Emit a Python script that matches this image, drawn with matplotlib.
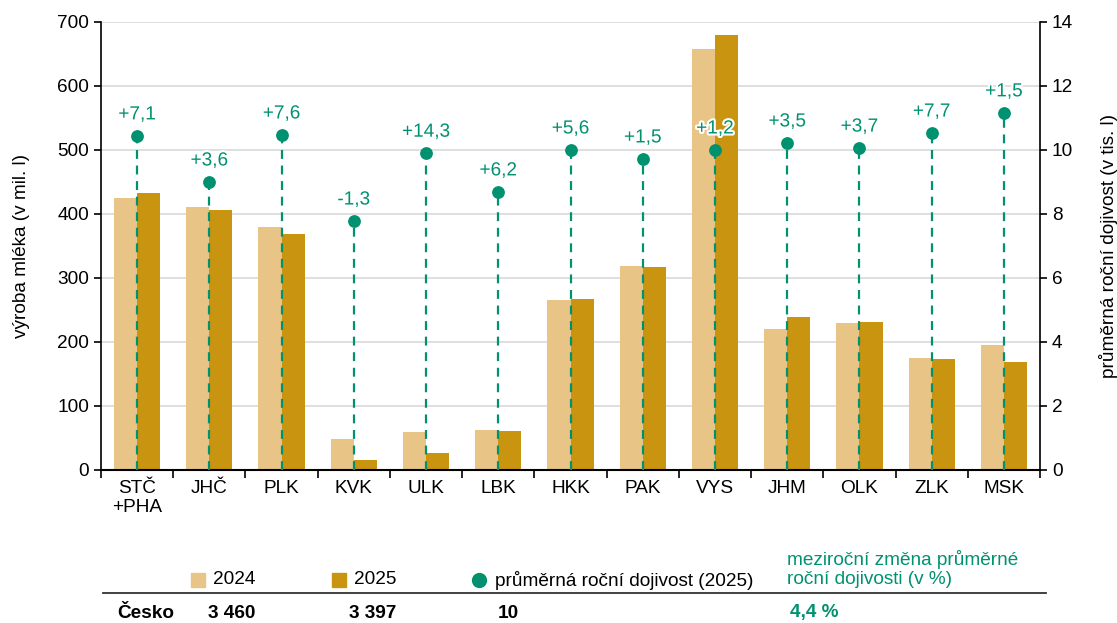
import matplotlib
matplotlib.use("Agg")
import matplotlib.pyplot as plt
import matplotlib.patheffects as pe
from matplotlib.lines import Line2D
import numpy as np

plt.rcParams["font.family"] = ["Liberation Sans", "DejaVu Sans"]

regions = ["STČ\n+PHA", "JHČ", "PLK", "KVK", "ULK", "LBK", "HKK", "PAK",
           "VYS", "JHM", "OLK", "ZLK", "MSK"]
prod_2024 = [425, 411, 379, 48, 60, 63, 266, 319, 658, 221, 229, 175, 196]
prod_2025 = [433, 407, 369, 15, 27, 61, 267, 317, 680, 239, 231, 173, 169]
yield_2025 = [10.44, 9.0, 10.47, 7.78, 9.9, 8.69, 10.0, 9.72, 10.0, 10.22, 10.06, 10.53, 11.16]
yield_change = ["+7,1", "+3,6", "+7,6", "-1,3", "+14,3", "+6,2", "+5,6", "+1,5",
                "+1,2", "+3,5", "+3,7", "+7,7", "+1,5"]

total_labels = ["Česko", "3 460", "3 397", "10", "4,4 %"]

C24 = "#E8C587"
C25 = "#C9940F"
GREEN = "#009270"
GRID = "#D9D9D9"
FS = 13.7
W, H = 1117, 623

fig = plt.figure(figsize=(W / 100, H / 100), dpi=100)
ax = fig.add_axes([101 / W, 1 - 470 / H, 939 / W, 448 / H])
ax2 = ax.twinx()

x = np.arange(len(regions))
w = 0.32
ax.bar(x - w / 2, prod_2024, w, color=C24, zorder=2)
ax.bar(x + w / 2, prod_2025, w, color=C25, zorder=2)

ax.set_ylim(0, 700)
ax.set_yticks(range(0, 701, 100))
ax.set_xlim(-0.5, len(regions) - 0.5)
ax.grid(axis="y", color=GRID, lw=1.2, zorder=0)
ax.set_axisbelow(True)
ax.set_xticks(x)
ax.set_xticklabels(regions, fontsize=FS)
ax.tick_params(axis="x", length=0, pad=7)
ax.set_xticks(np.arange(-0.5, len(regions), 1), minor=True)
ax.tick_params(axis="x", which="minor", length=6, width=1.2)
ax.tick_params(axis="y", labelsize=FS, length=5, width=1.2)
ax.set_ylabel("výroba mléka (v mil. l)", fontsize=FS, labelpad=20)
for s in ["top", "right"]:
    ax.spines[s].set_visible(False)
ax.spines["left"].set_linewidth(1.2)
ax.spines["bottom"].set_linewidth(1.5)

ax2.set_ylim(0, 14)
ax2.set_yticks(range(0, 15, 2))
ax2.tick_params(axis="y", labelsize=FS, length=5, width=1.2)
ax2.set_ylabel("průměrná roční dojivost (v tis. l)", fontsize=FS, labelpad=19)
for s in ["top", "left", "bottom"]:
    ax2.spines[s].set_visible(False)
ax2.spines["right"].set_linewidth(1.2)

ax2.vlines(x, 0, yield_2025, colors=GREEN, linestyles=(0, (4, 3)), lw=1.6, zorder=3)
ax2.scatter(x, yield_2025, s=67, color=GREEN, zorder=4)
for xi, yv, lab in zip(x, yield_2025, yield_change):
    t = ax2.annotate(lab, (xi, yv), xytext=(0, 9), textcoords="offset points",
                     ha="center", va="bottom", fontsize=FS, color=GREEN, zorder=5)
    t.set_path_effects([pe.withStroke(linewidth=3, foreground="white")])

# bottom legend / summary row
ly = 1 - 580 / H
fig.add_artist(Line2D([198 / W], [ly], marker="s", ms=10, color=C24, transform=fig.transFigure))
fig.text(213 / W, ly, "2024", fontsize=FS, va="center")
fig.add_artist(Line2D([339 / W], [ly], marker="s", ms=10, color=C25, transform=fig.transFigure))
fig.text(354 / W, ly, "2025", fontsize=FS, va="center")
fig.add_artist(Line2D([479 / W], [ly], marker="o", ms=10, color=GREEN, transform=fig.transFigure))
fig.text(495 / W, ly, "průměrná roční dojivost (2025)", fontsize=FS, va="center")
fig.text(787 / W, 1 - 569 / H, "meziroční změna průměrné\nroční dojivosti (v %)",
         fontsize=FS, va="center", color=GREEN, linespacing=1.15)

fig.add_artist(Line2D([103 / W, 1046 / W], [1 - 593 / H] * 2, color="#333333", lw=1.3,
                      transform=fig.transFigure))
ry = 1 - 613 / H
for xp, lab, col in zip([117, 208, 349, 498, 790], total_labels,
                        ["black", "black", "black", "black", GREEN]):
    fig.text(xp / W, ry, lab, fontsize=FS, fontweight="bold", va="center", color=col)

fig.savefig("out.png", dpi=100)
